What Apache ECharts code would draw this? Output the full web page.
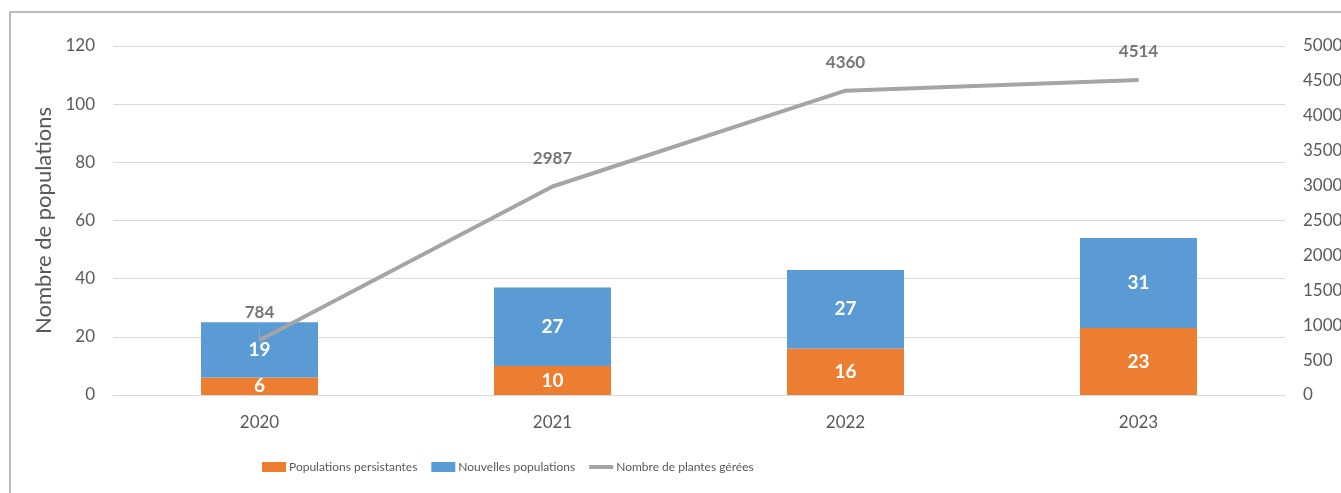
<!DOCTYPE html>
<html>
<head>
<meta charset="utf-8">
<script src="https://cdn.jsdelivr.net/npm/echarts@6/dist/echarts.min.js"></script>
<style>
  html, body { margin: 0; padding: 0; background: #fff; }
  #chart { width: 1341px; height: 493px; }
</style>
</head>
<body>
<div id="chart"></div>
<script>
  // données
  const years = ['2020', '2021', '2022', '2023'];
  const persistantes = [6, 10, 16, 23];
  const nouvelles = [19, 27, 27, 31];
  const plantesGerees = [784, 2987, 4360, 4514];

  const textColor = '#595959';
  const font = 'Lato, "Open Sans", sans-serif';

  const myChart = echarts.init(document.getElementById('chart'));

  // la première étiquette de la courbe a un petit trait de rappel
  const lineData = plantesGerees.map((v, i) => i === 0
    ? { value: v, labelLine: { show: true, lineStyle: { color: '#A5A5A5', width: 1 } } }
    : v);

  const option = {
    animation: false,
    textStyle: { fontFamily: font },
    graphic: [{
      type: 'rect',
      shape: { x: 10, y: 12, width: 1400, height: 600 },
      style: { fill: 'none', stroke: '#A6A6A6', lineWidth: 1.5 },
      silent: true
    }],
    grid: { left: 113, right: 56, top: 46, bottom: 98, outerBoundsMode: 'none' },
    legend: {
      bottom: 15,
      left: 257,
      itemWidth: 24,
      itemHeight: 10,
      itemGap: 14,
      textStyle: {
        color: textColor,
        fontSize: 12,
        padding: [0, 0, 0, -2]
      },
      data: [
        { name: 'Populations persistantes', icon: 'rect' },
        { name: 'Nouvelles populations', icon: 'rect' },
        {
          name: 'Nombre de plantes gérées',
          // trait épais, sans marqueur
          icon: 'path://M0,0h0.01v0.01h-0.01z M0,3h24v4h-24z M23.99,9.99h0.01v0.01h-0.01z'
        }
      ]
    },
    xAxis: {
      type: 'category',
      data: years,
      axisLine: { lineStyle: { color: '#D9D9D9', width: 1 } },
      axisTick: { show: false },
      axisLabel: { color: textColor, fontSize: 17, margin: 19 }
    },
    yAxis: [{
      type: 'value',
      min: 0,
      max: 120,
      interval: 20,
      name: 'Nombre de populations',
      nameLocation: 'middle',
      nameRotate: 90,
      nameGap: 58,
      nameTextStyle: { color: textColor, fontSize: 22 },
      axisLabel: { color: textColor, fontSize: 17, margin: 18 },
      splitLine: { lineStyle: { color: '#D9D9D9', width: 1 } }
    }, {
      type: 'value',
      min: 0,
      max: 5000,
      interval: 500,
      axisLabel: {
        color: textColor, fontSize: 17, margin: 18, align: 'left',
        formatter: v => String(v)
      },
      splitLine: { show: false }
    }],
    series: [{
      name: 'Populations persistantes',
      type: 'bar',
      stack: 'pop',
      data: persistantes,
      barWidth: 117,
      itemStyle: { color: '#ED7D31' },
      label: { show: true, position: 'inside', color: '#fff', fontWeight: 'bold', fontSize: 19 }
    }, {
      name: 'Nouvelles populations',
      type: 'bar',
      stack: 'pop',
      data: nouvelles,
      barWidth: 117,
      itemStyle: { color: '#5B9BD5' },
      label: { show: true, position: 'inside', color: '#fff', fontWeight: 'bold', fontSize: 19 }
    }, {
      name: 'Nombre de plantes gérées',
      type: 'line',
      yAxisIndex: 1,
      data: lineData,
      symbol: 'circle',
      symbolSize: 1,
      itemStyle: { color: '#A5A5A5' },
      lineStyle: { color: '#A5A5A5', width: 4 },
      label: { show: true, position: 'top', distance: 19, color: '#767676', fontWeight: 'bold', fontSize: 17 },
      z: 5
    }]
  };

  myChart.setOption(option);
</script>
</body>
</html>
